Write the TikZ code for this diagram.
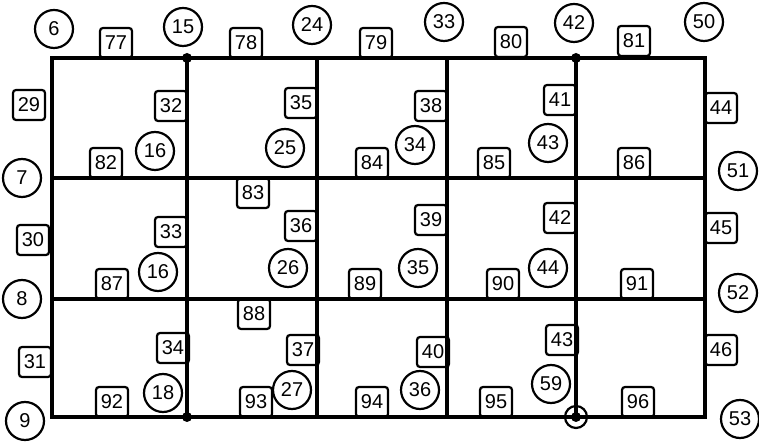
\documentclass[tikz,border=0pt]{standalone}
\usepackage{fontspec}
\setmainfont{Liberation Sans}
\usetikzlibrary{positioning}

\begin{document}
\begin{tikzpicture}[
  x=0.5pt, y=-0.5pt,
  every node/.style={font=\normalsize},
  ebox/.style={rectangle, rounded corners=1.5pt, draw, line width=1.1pt,
               minimum width=16pt, minimum height=15pt, inner sep=1pt},
  ncirc/.style={circle, draw, line width=1.1pt,
                minimum size=19pt, inner sep=0pt},
  gline/.style={line width=1.8pt},
  jdot/.style={circle, fill, inner sep=0pt, minimum size=5pt},
]
\useasboundingbox (0,0) rectangle (759,442);

%% grid corners
\coordinate (p00) at (52,58);  \coordinate (p50) at (705,58);
\coordinate (p01) at (52,178); \coordinate (p51) at (705,178);
\coordinate (p02) at (52,299); \coordinate (p52) at (705,299);
\coordinate (p03) at (52,417); \coordinate (p53) at (705,417);
\coordinate (p10) at (187,58);  \coordinate (p13) at (187,417);
\coordinate (p20) at (317,58);  \coordinate (p23) at (317,417);
\coordinate (p30) at (447,58);  \coordinate (p33) at (447,417);
\coordinate (p40) at (576,58);  \coordinate (p43) at (576,417);

\draw[gline] (p00) rectangle (p53);
\draw[gline] (p01) -- (p51);
\draw[gline] (p02) -- (p52);
\draw[gline] (p10) -- (p13);
\draw[gline] (p20) -- (p23);
\draw[gline] (p30) -- (p33);
\draw[gline] (p40) -- (p43);

%% junction marks
\node[jdot] (d1) at (p10) {};
\node[jdot] (d2) at (p40) {};
\node[jdot] (d3) at (p13) {};
\node[jdot] (d4) at (p43) {};
\node[ncirc, minimum size=11pt] (d4c) at (p43) {};

%% top border
\node[ncirc] (n6)  at (54,29)  {6};
\node[ebox]  (e77) at (116,43) {77};
\node[ncirc] (n15) at (183,27) {15};
\node[ebox]  (e78) at (246,43) {78};
\node[ncirc] (n24) at (312,25) {24};
\node[ebox]  (e79) at (376,43) {79};
\node[ncirc] (n33) at (444,22) {33};
\node[ebox]  (e80) at (511,42) {80};
\node[ncirc] (n42) at (574,23) {42};
\node[ebox]  (e81) at (634,41) {81};
\node[ncirc] (n50) at (704,22) {50};

%% left border
\node[ebox]  (e29) at (29,105) {29};
\node[ncirc] (n7)  at (22,178) {7};
\node[ebox]  (e30) at (33,240) {30};
\node[ncirc] (n8)  at (22,299) {8};
\node[ebox]  (e31) at (35,362) {31};
\node[ncirc] (n9)  at (25,421) {9};

%% right border
\node[ebox]  (e44) at (721,108) {44};
\node[ncirc] (n51) at (738,171) {51};
\node[ebox]  (e45) at (721,228) {45};
\node[ncirc] (n52) at (738,293) {52};
\node[ebox]  (e46) at (721,350) {46};
\node[ncirc] (n53) at (740,419) {53};

%% first row
\node[ebox]  (e32)  at (171,106) {32};
\node[ncirc] (n16a) at (155,151) {16};
\node[ebox]  (e82)  at (106,163) {82};
\node[ebox]  (e35)  at (301,103) {35};
\node[ncirc] (n25)  at (285,148) {25};
\node[ebox]  (e38)  at (431,106) {38};
\node[ncirc] (n34)  at (415,145) {34};
\node[ebox]  (e84)  at (372,163) {84};
\node[ebox]  (e41)  at (560,100) {41};
\node[ncirc] (n43)  at (548,143) {43};
\node[ebox]  (e85)  at (494,163) {85};
\node[ebox]  (e86)  at (634,163) {86};

%% second row
\node[ebox]  (e83)  at (253,193) {83};
\node[ebox]  (e33)  at (171,232) {33};
\node[ncirc] (n16b) at (158,272) {16};
\node[ebox]  (e87)  at (112,284) {87};
\node[ebox]  (e36)  at (301,226) {36};
\node[ncirc] (n26)  at (288,268) {26};
\node[ebox]  (e39)  at (431,220) {39};
\node[ncirc] (n35)  at (418,268) {35};
\node[ebox]  (e89)  at (365,284) {89};
\node[ebox]  (e42)  at (560,218) {42};
\node[ncirc] (n44)  at (548,268) {44};
\node[ebox]  (e90)  at (503,284) {90};
\node[ebox]  (e91)  at (637,284) {91};

%% third row
\node[ebox]  (e88)  at (254,314) {88};
\node[ebox]  (e34)  at (173,348) {34};
\node[ncirc] (n18)  at (163,393) {18};
\node[ebox]  (e92)  at (112,402) {92};
\node[ebox]  (e37)  at (303,350) {37};
\node[ncirc] (n27)  at (292,390) {27};
\node[ebox]  (e93)  at (256,402) {93};
\node[ebox]  (e40)  at (433,352) {40};
\node[ncirc] (n36)  at (420,390) {36};
\node[ebox]  (e94)  at (372,402) {94};
\node[ebox]  (e43)  at (562,340) {43};
\node[ncirc] (n59)  at (551,384) {59};
\node[ebox]  (e95)  at (496,402) {95};
\node[ebox]  (e96)  at (638,402) {96};

\end{tikzpicture}
\end{document}
